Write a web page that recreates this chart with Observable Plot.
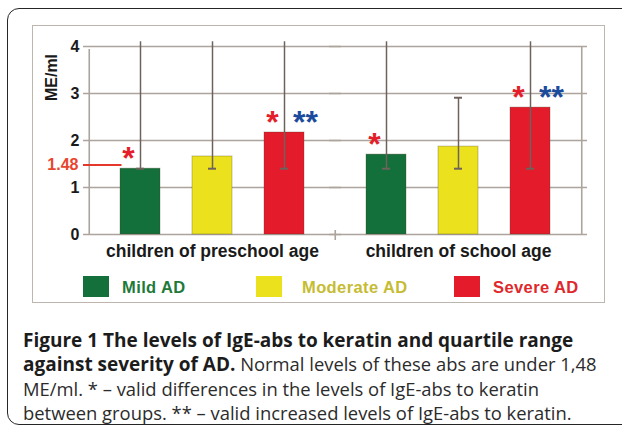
<!DOCTYPE html>
<html>
<head>
<meta charset="utf-8">
<script src="https://cdn.jsdelivr.net/npm/d3@7"></script>
<script src="https://cdn.jsdelivr.net/npm/@observablehq/plot@0.6"></script>
<style>
  html, body { margin: 0; padding: 0; background: #fff; }
  body { width: 622px; height: 428px; overflow: hidden; position: relative; font-family: "Liberation Sans", Arial, sans-serif; }
  #outer { position: absolute; left: 7px; top: 8px; width: 660px; height: 417px; border: 1.8px solid #262626; border-radius: 12px; box-sizing: border-box; }
  #inner { position: absolute; left: 32px; top: 25px; width: 573px; height: 278px; border: 1.6px solid #bdb5ae; box-sizing: border-box; }
  #chart { position: absolute; left: 0; top: 0; }
  #chart svg { overflow: visible; }
  .sw { position: absolute; width: 26px; height: 21px; top: 276px; }
  .lt { position: absolute; top: 276px; line-height: 22px; font-size: 16.5px; font-weight: bold; letter-spacing: 0.4px; white-space: nowrap; }
  #caption { position: absolute; left: 23px; top: 328px; font-family: "Open Sans", sans-serif; font-size: 18.4px; line-height: 24.3px; color: #2b2b2b; white-space: nowrap; }
  #caption b { font-weight: bold; font-size: 19px; color: #1c1c1c; }
</style>
</head>
<body>
<div id="outer"></div>
<div id="inner"></div>
<div id="chart"></div>
<div id="legend"></div>
<div id="caption">
  <b>Figure 1 The levels of IgE-abs to keratin and quartile range</b><br>
  <b>against severity of AD.</b> Normal levels of these abs are under 1,48<br>
  ME/ml. * – valid differences in the levels of IgE-abs to keratin<br>
  between groups. ** – valid increased levels of IgE-abs to keratin.
</div>
<script>
// ---- data ----
const groups = ["children of preschool age", "children of school age"];
const severities = ["Mild AD", "Moderate AD", "Severe AD"];
const barColors = ["#13703a", "#ebe11d", "#e31b2b"];
const legendTextColors = ["#1f7a3a", "#c6bc33", "#e0282c"];
const medians = [[1.40, 1.66, 2.17], [1.70, 1.87, 2.70]];
const lowerQuartile = [[1.40, 1.40, 1.40], [1.40, 1.40, 1.40]];
const upperQuartile = [[4.1, 4.1, 4.1], [4.1, 2.91, 4.1]];
const diffMark = [[true, false, true], [true, false, true]];      // "*"
const increaseMark = [[false, false, true], [false, false, true]]; // "**"
const normalLevel = 1.48;
const yTicks = [0, 1, 2, 3, 4];
const yLabel = "ME/ml";

const rows = [];
groups.forEach((g, gi) => severities.forEach((s, si) => rows.push({
  group: g, sev: s, median: medians[gi][si], q1: lowerQuartile[gi][si], q3: upperQuartile[gi][si],
  diff: diffMark[gi][si], inc: increaseMark[gi][si]
})));
const frameLines = [{group: groups[0], sev: severities[0], lo: 0, hi: yTicks[yTicks.length - 1]}];
const rightLines = [{group: groups[1], sev: severities[2], lo: 0, hi: yTicks[yTicks.length - 1]}];
const midTick = [{group: groups[1], sev: severities[0], lo: 0, hi: 0}];
const normal = [{group: groups[0], v: normalLevel}];

const grid = "#aca49d";
const whisker = "#6d625c";

const chart = Plot.plot({
  width: 622,
  height: 262,
  marginLeft: 88,
  marginRight: 41,
  marginTop: 46,
  marginBottom: 28,
  style: {fontFamily: "Liberation Sans, Arial, sans-serif", fontSize: "16px", fontWeight: "bold", color: "#1a1a1a", background: "transparent", overflow: "visible"},
  fx: {domain: groups, padding: 0, axis: null},
  x: {domain: severities, paddingInner: 0.444, paddingOuter: 0.43, axis: null},
  y: {domain: [0, 4], ticks: yTicks, tickSize: 0, tickPadding: 10, label: null, tickFormat: d3.format("d")},
  color: {domain: severities, range: barColors},
  marks: [
    Plot.ruleY(yTicks, {stroke: grid, strokeWidth: 1.6, insetLeft: -6, insetRight: -6}),
    Plot.ruleX(frameLines, {fx: "group", x: "sev", y1: "lo", y2: "hi", dx: -51.25, stroke: grid, strokeWidth: 1.6, insetBottom: -3}),
    Plot.ruleX(rightLines, {fx: "group", x: "sev", y1: "lo", y2: "hi", dx: 51.25, stroke: grid, strokeWidth: 1.6}),
    Plot.ruleX(midTick, {fx: "group", x: "sev", y1: "lo", y2: "hi", dx: -51.25, stroke: grid, strokeWidth: 1.6, insetTop: -4, insetBottom: -6}),
    Plot.barY(rows, {fx: "group", x: "sev", y: "median", fill: "sev", stroke: "#4a3a20", strokeOpacity: 0.3, strokeWidth: 1}),
    Plot.ruleX(rows, {fx: "group", x: "sev", y1: "q1", y2: "q3", stroke: whisker, strokeWidth: 1.5}),
    Plot.tickY(rows, {fx: "group", x: "sev", y: "q1", stroke: whisker, strokeWidth: 2, insetLeft: 16, insetRight: 16}),
    Plot.tickY(rows.filter(d => d.q3 <= 4), {fx: "group", x: "sev", y: "q3", stroke: whisker, strokeWidth: 2, insetLeft: 16, insetRight: 16}),
    Plot.ruleY(normal, {fx: "group", y: "v", stroke: "#e5372c", strokeWidth: 2, insetLeft: -6, insetRight: 213.5}),
    Plot.text(normal, {fx: "group", y: "v", text: d => d3.format(".2f")(d.v), frameAnchor: "left", dx: -11, textAnchor: "end", fill: "#e8452f", fontSize: 16, fontWeight: "bold"}),
    Plot.text(rows.filter(d => d.diff), {fx: "group", x: "sev", y: "median", text: () => "*", dx: -12, dy: -10, fill: "#e41e2a", fontSize: 32, fontWeight: "bold", fontFamily: "Liberation Sans"}),
    Plot.text(rows.filter(d => d.inc), {fx: "group", x: "sev", y: "median", text: () => "**", dx: 21, dy: -10, fill: "#1b4b9c", fontSize: 32, fontWeight: "bold", fontFamily: "Liberation Sans", letterSpacing: 2.5}),
    Plot.text(groups.map(g => ({group: g})), {fx: "group", text: "group", frameAnchor: "bottom", lineAnchor: "bottom", dy: 22.5, fill: "#1a1a1a", fontSize: 17.5, fontWeight: "bold", letterSpacing: 0.4}),
    Plot.text([{group: groups[0], label: yLabel}], {fx: "group", text: "label", frameAnchor: "top-left", rotate: -90, dx: -38, dy: 31, textAnchor: "middle", lineAnchor: "middle", fill: "#1a1a1a", fontSize: 16, fontWeight: "bold"})
  ]
});
document.getElementById("chart").appendChild(chart);

// legend
const legend = document.getElementById("legend");
const swX = [83, 256, 454];
const txX = [122, 302, 493];
severities.forEach((s, i) => {
  const sw = document.createElement("div");
  sw.className = "sw"; sw.style.left = swX[i] + "px"; sw.style.background = barColors[i];
  legend.appendChild(sw);
  const t = document.createElement("div");
  t.className = "lt"; t.style.left = txX[i] + "px"; t.style.color = legendTextColors[i];
  t.textContent = s;
  legend.appendChild(t);
});
</script>
</body>
</html>
